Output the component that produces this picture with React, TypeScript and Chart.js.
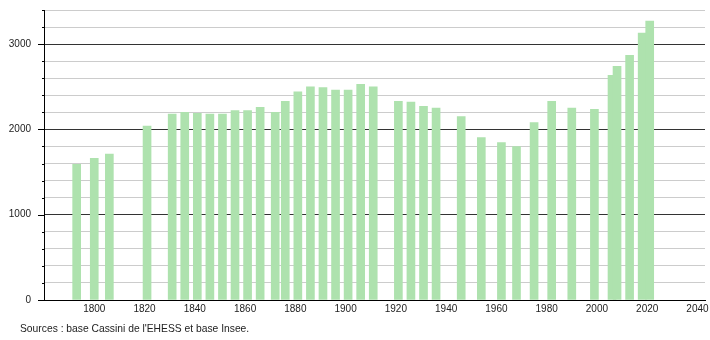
import React, { useEffect, useRef } from "react";
import { Chart, registerables } from "chart.js";

Chart.register(...registerables);

const years = [1793, 1800, 1806, 1821, 1831, 1836, 1841, 1846, 1851, 1856, 1861, 1866, 1872, 1876, 1881, 1886, 1891, 1896, 1901, 1906, 1911, 1921, 1926, 1931, 1936, 1946, 1954, 1962, 1968, 1975, 1982, 1990, 1999, 2006, 2008, 2013, 2018, 2021];
const population = [1590, 1660, 1710, 2040, 2180, 2200, 2190, 2180, 2180, 2220, 2220, 2260, 2200, 2330, 2440, 2500, 2490, 2460, 2460, 2530, 2500, 2330, 2320, 2270, 2250, 2150, 1905, 1845, 1800, 2080, 2330, 2250, 2235, 2635, 2740, 2870, 3130, 3270];
const xTickYears = [1800, 1820, 1840, 1860, 1880, 1900, 1920, 1940, 1960, 1980, 2000, 2020, 2040];
const yMajorTicks = [0, 1000, 2000, 3000];
const sourceText = "Sources : base Cassini de l'EHESS et base Insee.";

const FONT = "'Liberation Sans', Arial, sans-serif";

const yTickMarks = {
  id: "yTickMarks",
  afterDraw(chart: any) {
    const ctx = chart.ctx;
    const ys = chart.scales.y;
    const left = chart.chartArea.left;
    ctx.save();
    ctx.strokeStyle = "#000";
    ctx.lineWidth = 1;
    ys.ticks.forEach((t: any) => {
      const py = Math.round(ys.getPixelForValue(t.value)) + 0.5;
      const len = yMajorTicks.includes(t.value) ? 6 : 2;
      ctx.beginPath();
      ctx.moveTo(left - len, py);
      ctx.lineTo(left, py);
      ctx.stroke();
    });
    ctx.restore();
  },
};

const sourcePlugin = {
  id: "sourceText",
  afterDraw(chart: any) {
    const ctx = chart.ctx;
    ctx.save();
    ctx.font = `10.3px ${FONT}`;
    ctx.fillStyle = "#222";
    ctx.textAlign = "left";
    ctx.textBaseline = "middle";
    ctx.fillText(sourceText, 20, 329);
    ctx.restore();
  },
};

export default function App() {
  const ref = useRef<HTMLCanvasElement | null>(null);
  useEffect(() => {
    if (!ref.current) return;
    const chart = new Chart(ref.current, {
      type: "bar",
      data: {
        datasets: [
          {
            label: "Population",
            data: years.map((y, i) => ({ x: y, y: population[i] })),
            backgroundColor: "rgb(174,226,174)",
            borderWidth: 0,
            barThickness: 8,
          },
        ],
      },
      options: {
        responsive: false,
        animation: false,
        layout: { padding: { top: 10, right: 5, left: 0, bottom: 0 } },
        plugins: { legend: { display: false }, tooltip: { enabled: false }, title: { display: false } },
        scales: {
          x: {
            type: "linear",
            offset: false,
            min: 1780,
            max: 2043,
            afterFit: (s: any) => { s.height = 40; s.paddingLeft = 0; s.paddingRight = 0; },
            afterBuildTicks: (s: any) => { s.ticks = xTickYears.map((v) => ({ value: v })); },
            grid: { display: false, drawTicks: false, offset: false },
            border: { display: true, color: "#000", width: 1 },
            ticks: {
              autoSkip: false,
              maxRotation: 0,
              padding: 3,
              color: "#222",
              font: { family: FONT, size: 10 },
              callback: (v: any) => String(v),
            },
          },
          y: {
            min: 0,
            max: 3400,
            afterFit: (s: any) => { s.width = 44; s.paddingTop = 0; s.paddingBottom = 0; },
            ticks: {
              stepSize: 200,
              autoSkip: false,
              padding: 13,
              color: "#222",
              font: { family: FONT, size: 10 },
              callback: (v: any) => (yMajorTicks.includes(v) ? String(v) : ""),
            },
            grid: {
              drawTicks: false,
              color: (c: any) => (c.tick && yMajorTicks.includes(c.tick.value) ? "#333" : "#ccc"),
            },
            border: { display: true, color: "#000", width: 1 },
          },
        },
      },
      plugins: [yTickMarks, sourcePlugin],
    });
    return () => chart.destroy();
  }, []);
  return (
    <canvas
      ref={ref}
      width={710}
      height={340}
      style={{ position: "absolute", left: 0, top: 0, width: 710, height: 340, display: "block" }}
    />
  );
}
